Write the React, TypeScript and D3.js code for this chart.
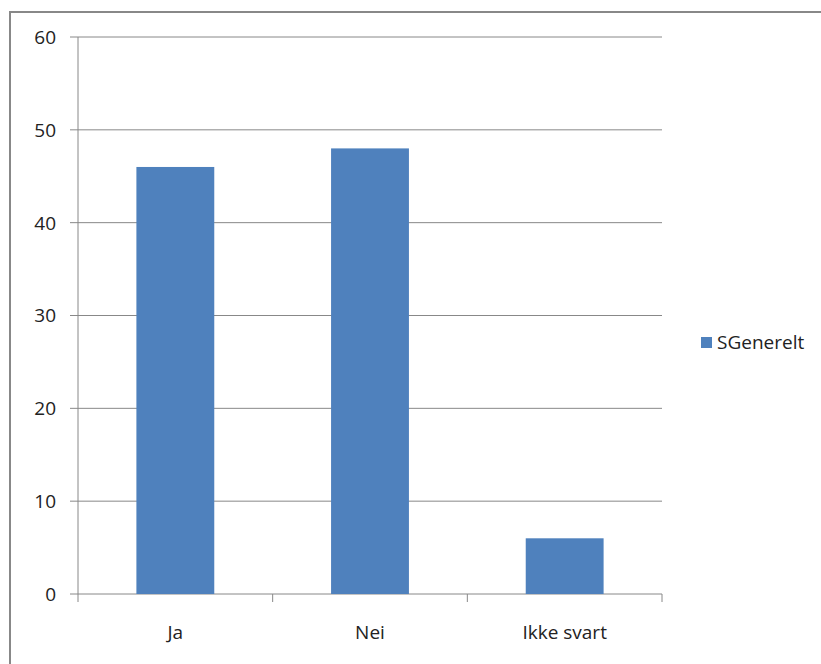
import React from "react";
import * as d3 from "d3";

const categories = ["Ja", "Nei", "Ikke svart"];
const values = [46, 48, 6];
const yTicks = [0, 10, 20, 30, 40, 50, 60];
const seriesName = "SGenerelt";

export default function App() {
  const W = 821, H = 664;
  const left = 78, right = 662, top = 37, bottom = 594;
  const x = d3.scaleBand<string>().domain(categories).range([left, right]).paddingInner(0.6).paddingOuter(0.3);
  const xb = d3.scaleBand<string>().domain(categories).range([left, right]);
  const y = d3.scaleLinear().domain([0, 60]).range([bottom, top]);
  const font = "'Open Sans', sans-serif";
  const color = "#4F81BD";
  return (
    <svg width={W} height={H} style={{ position: "absolute", left: 0, top: 0, background: "#fff" }} fontFamily={font}>
      <rect x={10} y={12} width={W + 20} height={H + 20} fill="#fff" stroke="#888" strokeWidth={2} />
      {yTicks.map((t) => (
        <g key={t}>
          <line x1={left - 8} x2={right} y1={y(t)} y2={y(t)} stroke="#888" strokeWidth={1} />
          <text x={left - 22} y={y(t)} dy="0.36em" textAnchor="end" fontSize={19} fill="#222">{t}</text>
        </g>
      ))}
      <line x1={left} x2={left} y1={top} y2={bottom} stroke="#888" />
      {categories.map((c, i) => (
        <rect key={c} x={x(c)} y={y(values[i])} width={x.bandwidth()} height={y(0) - y(values[i])} fill={color} />
      ))}
      {[...categories.map((c) => xb(c) as number), right].map((px, i) => (
        <line key={i} x1={px} x2={px} y1={bottom} y2={bottom + 8} stroke="#888" />
      ))}
      {categories.map((c) => (
        <text key={c} x={(xb(c) as number) + xb.bandwidth() / 2} y={bottom + 45} textAnchor="middle" fontSize={19} fill="#222">{c}</text>
      ))}
      <rect x={701} y={337} width={11} height={11} fill={color} />
      <text x={717} y={349} fontSize={19} fill="#222">{seriesName}</text>
    </svg>
  );
}
